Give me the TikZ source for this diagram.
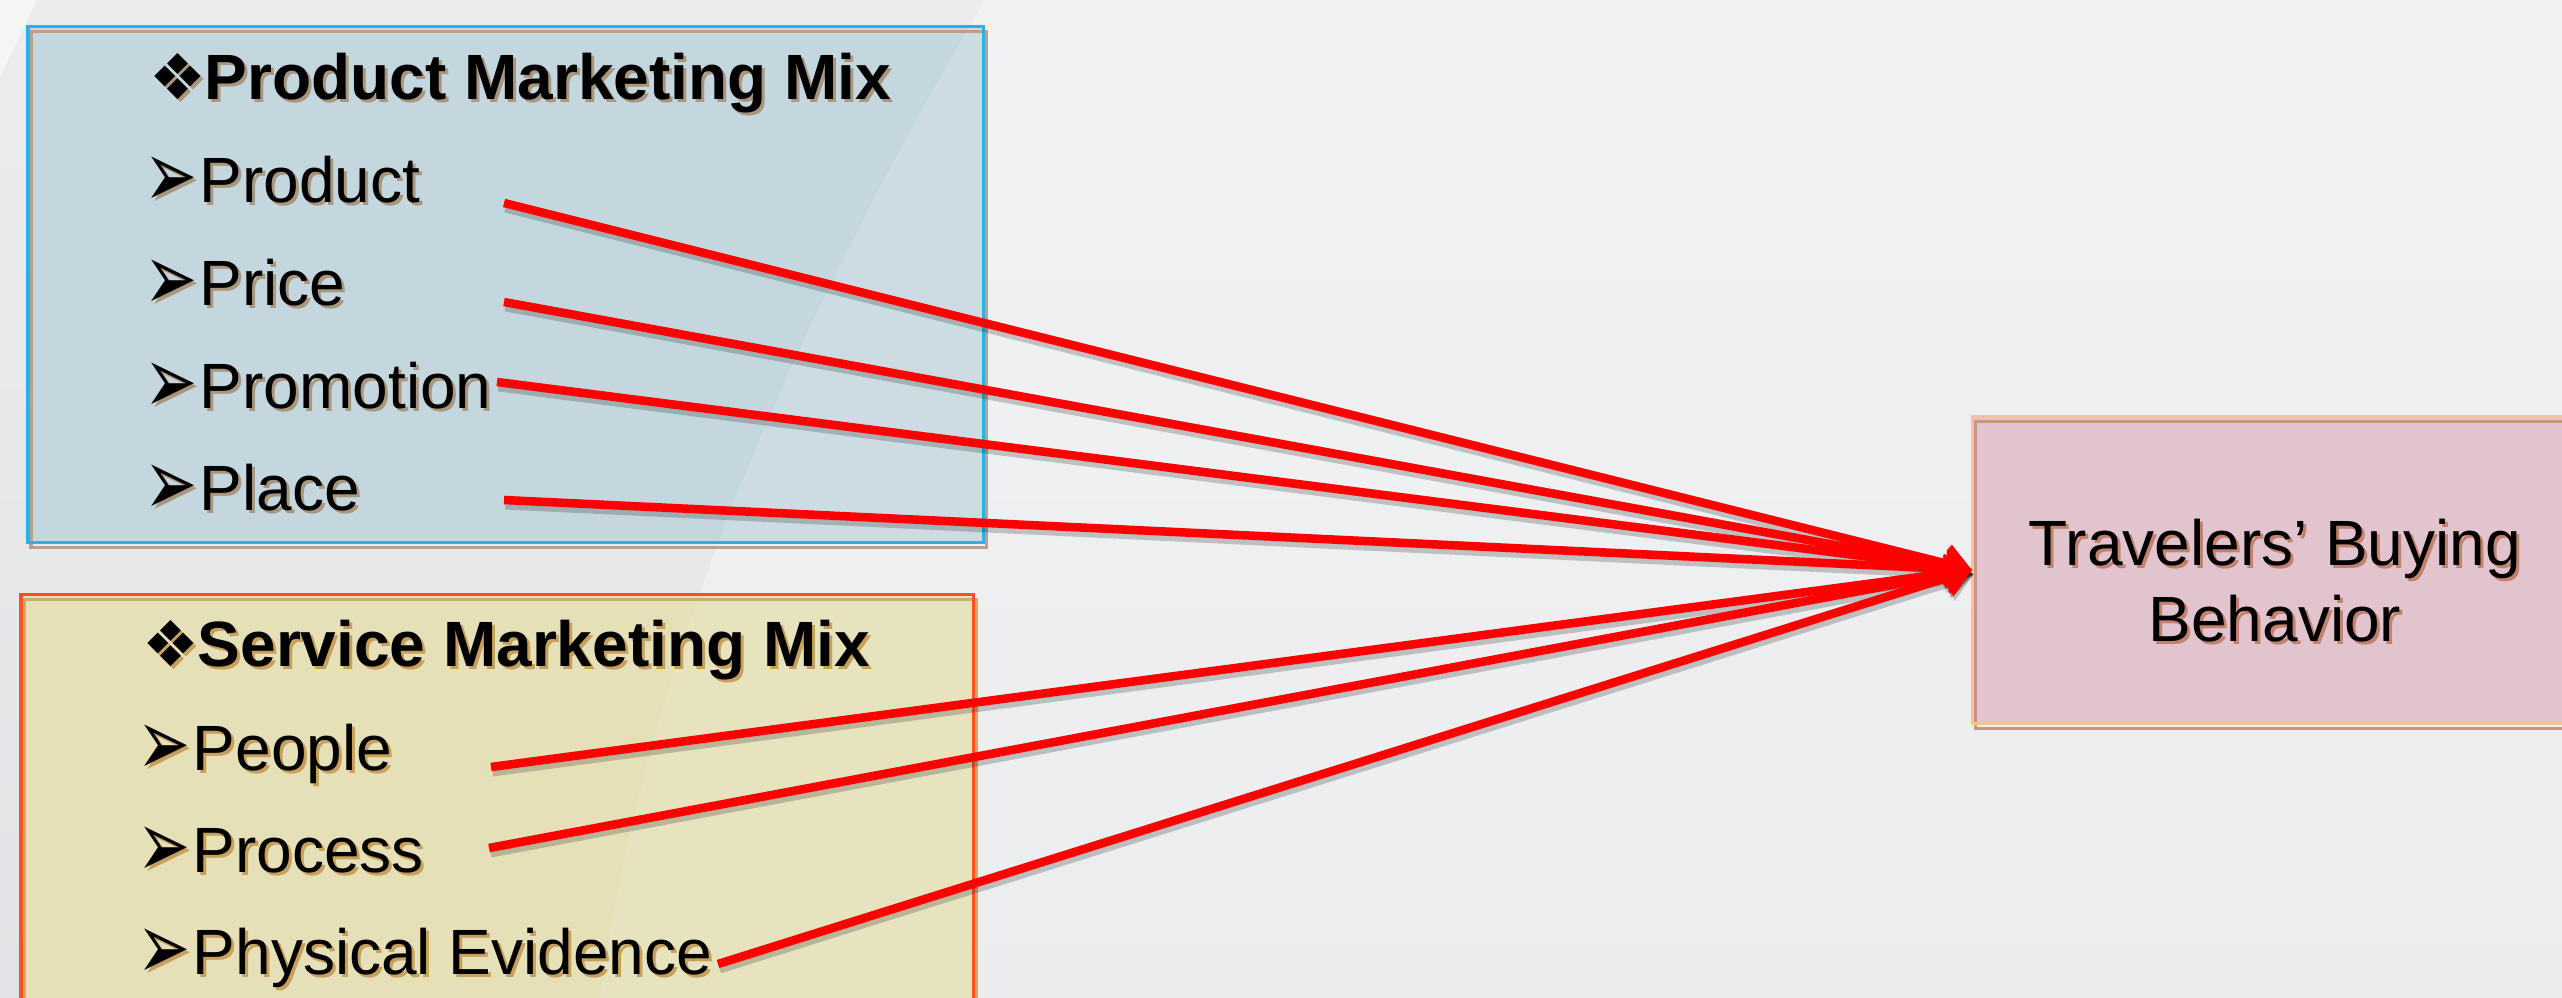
\documentclass[tikz,border=0pt]{standalone}
\usepackage{fontspec}
\setmainfont{Liberation Sans}
\newfontfamily\dingfont{DejaVu Sans}
\usetikzlibrary{arrows.meta}

\definecolor{bgtop}{RGB}{236,236,237}
\definecolor{bgbot}{RGB}{225,227,230}
\definecolor{pfill}{RGB}{197,215,222}
\definecolor{pline}{RGB}{40,178,230}
\definecolor{pshadow}{RGB}{190,160,135}
\definecolor{ptext}{RGB}{168,150,125}
\definecolor{sfill}{RGB}{229,224,184}
\definecolor{sline}{RGB}{255,80,30}
\definecolor{sshadow}{RGB}{205,170,110}
\definecolor{stext}{RGB}{200,160,90}
\definecolor{tfill}{RGB}{226,196,207}
\definecolor{tline}{RGB}{250,195,150}
\definecolor{tshadow}{RGB}{200,150,130}
\definecolor{ttext}{RGB}{195,130,110}
\definecolor{arrowred}{RGB}{255,0,0}

% text with a soft offset copy behind it
\newcommand\shtxt[2]{\leavevmode\rlap{\kern0.03cm\raisebox{-0.03cm}{\color{#1}#2}}#2}
\newcommand\arrbul{\makebox[0.5cm][l]{\kern-0.05cm\raisebox{-0.05cm}{\scalebox{1}[1.5]{\dingfont\fontsize{18pt}{18pt}\selectfont ➢}}}}
\newcommand\diabul{\makebox[0.55cm][l]{\dingfont\fontsize{18pt}{18pt}\selectfont ❖}}

\tikzset{
  mixbox/.style={line width=0.03cm, inner sep=0, anchor=north west},
  item/.style={anchor=base west, inner sep=0, font=\fontsize{18.2pt}{21.6pt}\selectfont},
  head/.style={anchor=base west, inner sep=0, font=\fontsize{18.2pt}{21.6pt}\selectfont\bfseries},
  link/.style={draw=arrowred, line width=0.085cm, -{Triangle[length=0.26cm,width=0.38cm]}},
  linkshadow/.style={draw=black, draw opacity=0.2, line width=0.1cm, -{Triangle[length=0.26cm,width=0.38cm]}, fill=black, fill opacity=0.2},
}

\newcommand\bandpath{(985,0) .. controls (760,380) and (640,700) .. (600,998) -- (2562,998) -- (2562,0) -- cycle}

\begin{document}
\begin{tikzpicture}[x=0.01cm, y=-0.01cm]
\useasboundingbox (0,0) rectangle (2562,998);
\clip (0,0) rectangle (2562,998);

% background
\shade[top color=bgtop, bottom color=bgbot] (0,0) rectangle (2562,998);
\fill[white, opacity=0.35] \bandpath;
\fill[white, opacity=0.5] (0,0) -- (37,0) -- (0,77) -- cycle;

% the two marketing-mix panels
\node[mixbox, fill=pfill, minimum width=9.52cm, minimum height=5.12cm] (pmm) at (28,27) {};
\node[mixbox, fill=sfill, minimum width=9.49cm, minimum height=4.2cm] (smm) at (21,595) {};
\begin{scope}
  \clip (pmm.north west) rectangle (pmm.south east);
  \fill[white, opacity=0.13] \bandpath;
\end{scope}
\begin{scope}
  \clip (smm.north west) rectangle (smm.south east);
  \fill[white, opacity=0.1] \bandpath;
\end{scope}
\draw[pshadow, line width=0.03cm] ([shift={(3,5)}]pmm.north west) rectangle ([shift={(3,5)}]pmm.south east);
\draw[pline, line width=0.03cm] (pmm.north west) rectangle (pmm.south east);
\draw[sshadow, line width=0.03cm] ([shift={(3,5)}]smm.north west) rectangle ([shift={(3,5)}]smm.south east);
\draw[sline, line width=0.03cm] (smm.north west) rectangle (smm.south east);

% target box
\node[mixbox, anchor=west, fill=tfill, minimum width=6.06cm, minimum height=3.04cm] (tbb) at (1972,570) {};
\draw[tshadow, line width=0.03cm] ([shift={(3,5)}]tbb.north west) rectangle ([shift={(3,5)}]tbb.south east);
\draw[tline, line width=0.03cm] (tbb.north west) rectangle (tbb.south east);
\node[inner sep=0, align=center, font=\fontsize{18.2pt}{21.6pt}\selectfont] (tbbtext) at (2275,582)
  {\shtxt{ttext}{Travelers’ Buying}\\\shtxt{ttext}{Behavior}};

% product marketing mix
\node[head] (ph) at (149,100) {\shtxt{ptext}{\diabul Product Marketing Mix}};
\node[item] (p1) at (149,203) {\shtxt{ptext}{\arrbul Product}};
\node[item] (p2) at (149,306) {\shtxt{ptext}{\arrbul Price}};
\node[item] (p3) at (149,409) {\shtxt{ptext}{\arrbul Promotion}};
\node[item] (p4) at (149,511) {\shtxt{ptext}{\arrbul Place}};

% service marketing mix
\node[head] (sh) at (142,667) {\shtxt{stext}{\diabul Service Marketing Mix}};
\node[item] (s1) at (142,771) {\shtxt{stext}{\arrbul People}};
\node[item] (s2) at (142,873) {\shtxt{stext}{\arrbul Process}};
\node[item] (s3) at (142,975) {\shtxt{stext}{\arrbul Physical Evidence}};

% connector start points
\coordinate (c1) at (504,203);
\coordinate (c2) at (504,302);
\coordinate (c3) at (497,382);
\coordinate (c4) at (504,500);
\coordinate (c5) at (491,767);
\coordinate (c6) at (489,848);
\coordinate (c7) at (718,964);

% connectors
\begin{scope}[transform canvas={shift={(0.015cm,-0.045cm)}}]
  \foreach \c in {c1,c2,c3,c4,c5,c6,c7}
    \draw[linkshadow] (\c) -- (tbb.west);
\end{scope}
\foreach \c in {c1,c2,c3,c4,c5,c6,c7}
  \draw[link] (\c) -- (tbb.west);
\end{tikzpicture}
\end{document}
